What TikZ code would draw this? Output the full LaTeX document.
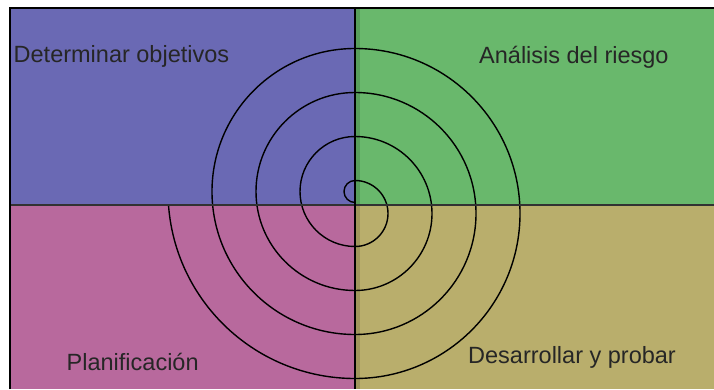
\documentclass[tikz,border=0pt]{standalone}
\usepackage{fontspec}
\setmainfont{Liberation Sans}
\definecolor{qblue}{RGB}{106,105,180}
\definecolor{qgreen}{RGB}{105,184,108}
\definecolor{qpink}{RGB}{184,105,157}
\definecolor{qolive}{RGB}{185,174,108}
\definecolor{qgreendk}{RGB}{88,158,92}
\definecolor{qolivedk}{RGB}{160,150,92}
\definecolor{divgray}{RGB}{50,50,50}
\begin{document}
\begin{tikzpicture}[x=1pt,y=1pt,
  lbl/.style={inner sep=0pt, text=black!85, font=\fontsize{23.5}{26}\selectfont},
  spiralline/.style={draw=black, line width=1.4pt},
  divider/.style={line width=2.2pt}]
\useasboundingbox (0,0) rectangle (714,389);
\fill[white] (0,0) rectangle (714,389);
% quadrants
\fill[qblue]  (10,184) rectangle (355,381);
\fill[qgreen] (355,184) rectangle (714,381);
\fill[qpink]  (10,0) rectangle (355,184);
\fill[qolive] (355,0) rectangle (714,184);
\fill[qgreendk] (355,184) rectangle (360,381);
\fill[qolivedk] (355,0) rectangle (360,184);
% spiral
\draw[spiralline] (355,186.5)
  arc[start angle=-90,end angle=-270,radius=11]
  arc[start angle=90,end angle=-90,radius=33]
  arc[start angle=-90,end angle=-270,radius=55]
  arc[start angle=90,end angle=-90,radius=77]
  arc[start angle=-90,end angle=-270,radius=99]
  arc[start angle=90,end angle=-90,radius=121]
  arc[start angle=-90,end angle=-270,radius=143]
  arc[start angle=90,end angle=-90,radius=165]
  arc[start angle=-90,end angle=-175.9,radius=187];
% dividers and frame
\coordinate (hl) at (10,184);
\coordinate (hr) at (714,184);
\coordinate (vt) at (355,381);
\coordinate (vb) at (355,0);
\coordinate (tl) at (10,381);
\coordinate (tr) at (714,381);
\coordinate (bl) at (10,0);
\draw[divider, divgray] (hl) -- (hr);
\draw[line width=2pt, black] (vt) -- (vb);
\draw[line width=2.5pt, black] (bl) -- (tl) -- (tr);
% labels
\node[lbl, anchor=base west] (obj) at (13.5,326.3) {Determinar objetivos};
\node[lbl, anchor=base west] (risk) at (479,325.7) {Análisis del riesgo};
\node[lbl, anchor=base west] (plan) at (66.5,19) {Planificación};
\node[lbl, anchor=base west] (dev) at (468,25.7) {Desarrollar y probar};
\end{tikzpicture}
\end{document}
